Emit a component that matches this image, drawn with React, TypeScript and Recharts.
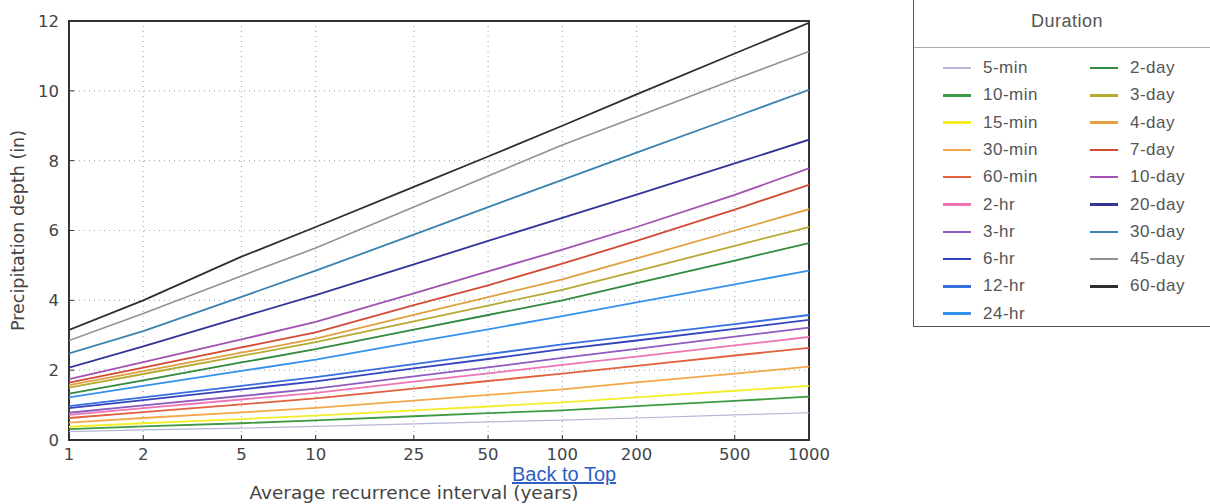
import React from "react";
import { LineChart, Line, XAxis, YAxis, CartesianGrid, ReferenceArea, Label } from "recharts";

const intervals = [1, 2, 5, 10, 25, 50, 100, 200, 500, 1000];
const xTicks = [1, 2, 5, 10, 25, 50, 100, 200, 500, 1000];
const yTicks = [0, 2, 4, 6, 8, 10, 12];

const min5 = [0.24, 0.29, 0.34, 0.39, 0.46, 0.52, 0.57, 0.63, 0.72, 0.78];
const min10 = [0.31, 0.39, 0.48, 0.56, 0.68, 0.77, 0.85, 0.97, 1.12, 1.24];
const min15 = [0.38, 0.48, 0.6, 0.7, 0.85, 0.96, 1.08, 1.22, 1.41, 1.55];
const min30 = [0.5, 0.63, 0.79, 0.92, 1.13, 1.29, 1.45, 1.65, 1.9, 2.1];
const min60 = [0.63, 0.8, 1.02, 1.19, 1.47, 1.69, 1.9, 2.12, 2.42, 2.64];
const hr2 = [0.72, 0.91, 1.16, 1.35, 1.67, 1.91, 2.15, 2.39, 2.71, 2.95];
const hr3 = [0.78, 0.99, 1.26, 1.47, 1.82, 2.08, 2.35, 2.61, 2.96, 3.22];
const hr6 = [0.91, 1.14, 1.45, 1.68, 2.05, 2.32, 2.6, 2.85, 3.18, 3.44];
const hr12 = [0.97, 1.22, 1.55, 1.8, 2.17, 2.46, 2.74, 2.99, 3.32, 3.58];
const hr24 = [1.22, 1.55, 1.98, 2.3, 2.8, 3.17, 3.55, 3.94, 4.46, 4.85];
const day2 = [1.33, 1.71, 2.22, 2.6, 3.16, 3.58, 4.0, 4.49, 5.14, 5.64];
const day3 = [1.5, 1.89, 2.41, 2.8, 3.4, 3.85, 4.3, 4.84, 5.56, 6.1];
const day4 = [1.57, 1.97, 2.5, 2.9, 3.58, 4.09, 4.6, 5.2, 6.0, 6.61];
const day7 = [1.64, 2.07, 2.65, 3.08, 3.86, 4.43, 5.05, 5.7, 6.6, 7.31];
const day10 = [1.74, 2.23, 2.88, 3.38, 4.2, 4.83, 5.45, 6.1, 7.02, 7.78];
const day20 = [2.07, 2.68, 3.52, 4.15, 5.03, 5.7, 6.36, 7.03, 7.92, 8.6];
const day30 = [2.48, 3.12, 4.1, 4.85, 5.88, 6.67, 7.45, 8.23, 9.25, 10.03];
const day45 = [2.85, 3.62, 4.7, 5.5, 6.67, 7.56, 8.45, 9.26, 10.33, 11.13];
const day60 = [3.15, 4.0, 5.25, 6.1, 7.25, 8.12, 9.0, 9.9, 11.07, 11.95];

const seriesNames = [
  "5-min", "10-min", "15-min", "30-min", "60-min", "2-hr", "3-hr", "6-hr", "12-hr", "24-hr",
  "2-day", "3-day", "4-day", "7-day", "10-day", "20-day", "30-day", "45-day", "60-day",
];
const seriesValues = [
  min5, min10, min15, min30, min60, hr2, hr3, hr6, hr12, hr24,
  day2, day3, day4, day7, day10, day20, day30, day45, day60,
];

const colors: Record<string, string> = {
  "5-min": "#b4b6d6",
  "10-min": "#3f9a45",
  "15-min": "#f2ee2a",
  "30-min": "#f4a848",
  "60-min": "#e2603e",
  "2-hr": "#ee74b4",
  "3-hr": "#8e5cc0",
  "6-hr": "#3444bc",
  "12-hr": "#386ee0",
  "24-hr": "#3492ee",
  "2-day": "#2f8a3c",
  "3-day": "#b6aa32",
  "4-day": "#e0a040",
  "7-day": "#d24a34",
  "10-day": "#a252b2",
  "20-day": "#323496",
  "30-day": "#3a82b0",
  "45-day": "#929292",
  "60-day": "#2e2e2e",
};

const widths: Record<string, number> = { "5-min": 1.2, "45-day": 1.6 };

const data = intervals.map((x, i) => {
  const row: Record<string, number> = { x };
  seriesNames.forEach((n, k) => {
    row[n] = seriesValues[k][i];
  });
  return row;
});

const tickStyle = { fontFamily: "DejaVu Sans, sans-serif", fontSize: 16.5, fill: "#444" };

export default function App() {
  const col1 = seriesNames.slice(0, 10);
  const col2 = seriesNames.slice(10);
  return (
    <div style={{ position: "absolute", left: 0, top: 0, width: 1210, height: 504, background: "#fff", overflow: "hidden" }}>
      <div style={{ position: "absolute", left: 0, top: 0 }}>
        <LineChart width={860} height={504} data={data} margin={{ top: 21, right: 51, left: 0, bottom: 0 }}>
          <CartesianGrid stroke="#9fb2cc" strokeDasharray="1 4" strokeWidth={1.2} />
          <XAxis
            dataKey="x"
            type="number"
            scale="log"
            domain={[1, 1000]}
            ticks={xTicks}
            allowDataOverflow
            height={64}
            tickLine={{ stroke: "#333", strokeWidth: 1 }}
            tickSize={-5}
            tickMargin={13}
            axisLine={false}
            tick={tickStyle}
            interval={0}
          >
            <Label
              value="Average recurrence interval (years)"
              position="insideBottom"
              offset={5}
              dx={-25}
              style={{ fontFamily: "DejaVu Sans, sans-serif", fontSize: 18.5, fill: "#444" }}
            />
          </XAxis>
          <YAxis
            type="number"
            domain={[0, 12]}
            ticks={yTicks}
            width={69}
            tickLine={{ stroke: "#333", strokeWidth: 1 }}
            tickSize={-5}
            tickMargin={15}
            axisLine={false}
            tick={tickStyle}
            interval={0}
          >
            <Label
              value="Precipitation depth (in)"
              angle={-90}
              position="insideLeft"
              offset={18}
              style={{ fontFamily: "DejaVu Sans, sans-serif", fontSize: 17.5, fill: "#444", textAnchor: "middle" }}
            />
          </YAxis>
          {seriesNames.map((n) => (
            <Line
              key={n}
              dataKey={n}
              type="linear"
              stroke={colors[n]}
              strokeWidth={widths[n] ?? 1.8}
              dot={false}
              isAnimationActive={false}
            />
          ))}
          <ReferenceArea x1={1} x2={1000} y1={0} y2={12} fill="none" stroke="#333" strokeWidth={2} ifOverflow="visible" />
        </LineChart>
      </div>
      <a
        href="#"
        style={{
          position: "absolute",
          left: 512,
          top: 463,
          fontFamily: "Liberation Sans, Arial, sans-serif",
          fontSize: 20,
          color: "#2f5fbf",
          textDecoration: "underline",
        }}
      >
        Back to Top
      </a>
      <div
        style={{
          position: "absolute",
          left: 913,
          top: -2,
          width: 320,
          height: 329,
          borderLeft: "1.5px solid #555",
          borderBottom: "1.5px solid #555",
          borderTop: "1.5px solid #555",
          boxSizing: "border-box",
          fontFamily: "Liberation Sans, Arial, sans-serif",
          color: "#555",
        }}
      >
        <div style={{ position: "absolute", left: 0, width: 306, top: 12, textAlign: "center", fontSize: 18, letterSpacing: 0.5 }}>Duration</div>
        <div style={{ position: "absolute", left: 0, width: "100%", top: 48, borderTop: "1px solid #aaa" }} />
        {[col1, col2].map((col, ci) =>
          col.map((n, ri) => (
            <div
              key={n}
              style={{ position: "absolute", left: ci === 0 ? 29 : 176, top: 61 + ri * 27.3, height: 16, display: "flex", alignItems: "center" }}
            >
              <div style={{ width: 28, height: n === "5-min" ? 1.5 : 2.5, background: colors[n] }} />
              <div style={{ marginLeft: 12, fontSize: 17, letterSpacing: 0.5, whiteSpace: "nowrap" }}>{n}</div>
            </div>
          ))
        )}
      </div>
    </div>
  );
}
